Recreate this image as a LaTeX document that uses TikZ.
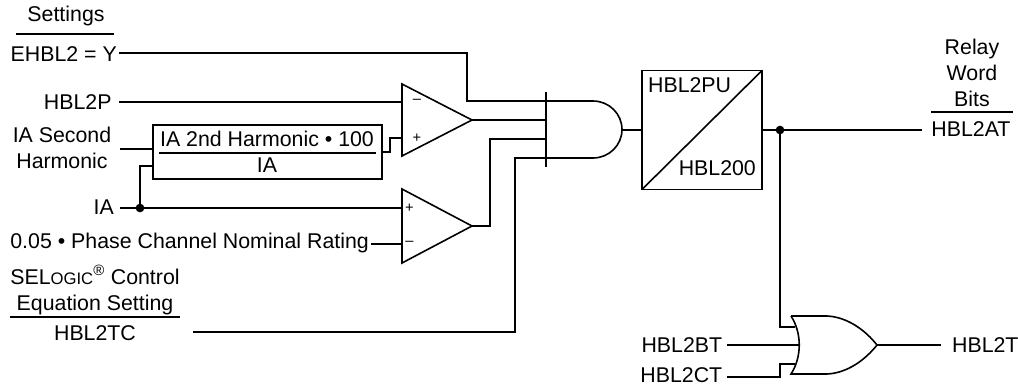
\documentclass[tikz,border=0pt]{standalone}
\usepackage{fontspec}
\setmainfont{Liberation Sans}
\usetikzlibrary{positioning}

\begin{document}
\begin{tikzpicture}[x=0.75pt,y=-0.75pt,line width=1.2pt,
                dot/.style={circle,fill,inner sep=0pt,minimum size=6.5pt},
                label node/.style={inner sep=1pt,font=\fontsize{16}{16}\selectfont},
                sign node/.style={inner sep=0pt,font=\fontsize{11}{12}\selectfont},
                box node/.style={draw,inner sep=0pt,outer sep=0pt}]
  \useasboundingbox (0,0) rectangle (1018,386);

  % inputs
  \node[label node] (settings) at (66,16) {Settings};
  \node[label node,anchor=east] (ehbl) at (119,54) {EHBL2 = Y};
  \node[label node,anchor=east,inner xsep=5pt] (hblp) at (119,102) {HBL2P};
  \node[label node,align=center] (second) at (62,148) {IA Second\\[3.5pt]Harmonic};
  \node[label node,anchor=east,inner xsep=4pt] (ia) at (120,207) {IA};
  \node[label node,anchor=east] (rating) at (371,243) {0.05 • Phase Channel Nominal Rating};
  \node[label node,align=center] (selogic) at (95,290) {SEL{\fontsize{12.5}{12}\selectfont OGIC}\textsuperscript{®} Control\\[3.5pt]Equation Setting};
  \node[label node] (hbltc) at (95,333) {HBL2TC};

  % outputs and the OR inputs
  \node[label node,align=center] (relay) at (972,73) {Relay\\[3.5pt]Word\\[3.5pt]Bits};
  \node[label node] (hblat) at (971,129) {HBL2AT};
  \node[label node,anchor=east,inner xsep=3pt] (hblbt) at (727,345) {HBL2BT};
  \node[label node,anchor=east,inner xsep=3pt] (hblct) at (727,375) {HBL2CT};
  \node[label node,anchor=west] (hblt) at (950,345) {HBL2T};

  % boxes
  \node[box node,minimum width=171.75pt,minimum height=40.5pt] (ratio) at (267.5,152) {};
  \node[label node] (ratiotop) at (267,139) {IA 2nd Harmonic • 100};
  \node[label node] (ratiobot) at (267,165) {IA};
  \node[box node,minimum width=90pt,minimum height=89.25pt] (timer) at (702,130) {};
  \node[label node,anchor=west] (timerpu) at (646,85) {HBL2PU};
  \node[label node,anchor=east] (timerdo) at (758,168) {HBL200};

  % comparators
  \coordinate (cmpa) at (472,120);
  \coordinate (cmpb) at (472,226);
  \draw (402,84) -- (cmpa) -- (402,156) -- cycle;
  \draw (402,189) -- (cmpb) -- (402,263) -- cycle;
  \node[sign node] (cmpaminus) at (417,101) {--};
  \node[sign node] (cmpaplus) at (417,138) {+};
  \node[sign node] (cmpbplus) at (409.5,208) {+};
  \node[sign node] (cmpbminus) at (409.5,243) {--};

  % AND gate
  \coordinate (andout) at (622,130);
  \draw (546,92) -- (546,167);
  \draw (546,101) -- (593,101) arc (-90:90:29 and 28.5) -- (546,158);

  % OR gate
  \coordinate (orout) at (877,345);
  \draw (791,316) -- (827,316) .. controls (848,317) and (866,331) .. (orout)
        .. controls (866,359) and (848,373) .. (827,374) -- (791,374)
        .. controls (802,357) and (802,333) .. (791,316);

  % pins
  \coordinate (andina) at (546,101);
  \coordinate (andinb) at (546,120);
  \coordinate (andinc) at (546,139);
  \coordinate (andind) at (546,158);
  \coordinate (cmpaina) at (402,102);
  \coordinate (cmpainb) at (402,138);
  \coordinate (cmpbina) at (402,208);
  \coordinate (cmpbinb) at (402,244);
  \coordinate (orina) at (795,327);
  \coordinate (orinb) at (799,345);
  \coordinate (orinc) at (795,364);
  \coordinate (branch) at (140,208);
  \coordinate (tap) at (780,130);

  % rules
  \draw (16,34) -- (114,34);
  \draw (159,153) -- (376,153);
  \draw (10,317) -- (180,317);
  \draw (931,112) -- (1013,112);
  \draw (timer.south west) -- (timer.north east);

  % connectors
  \node[dot] (iadot) at (branch) {};
  \node[dot] (tapdot) at (tap) {};
  \draw (ehbl.east |- 0,53) -- (467,53) -- (467,101) -- (andina);
  \draw (hblp.east) -- (cmpaina);
  \draw (120,149) -- (153,149);
  \draw (branch) -- (140,166) -- (153,166);
  \draw (ratio.east |- 0,152) -- (390,152) -- (390,138) -- (cmpainb);
  \draw (ia.east |- branch) -- (cmpbina);
  \draw (rating.east |- cmpbinb) -- (cmpbinb);
  \draw (cmpa) -- (andinb);
  \draw (cmpb) -- (490,226) -- (490,139) -- (andinc);
  \draw (193,332) -- (515,332) -- (515,158) -- (andind);
  \draw (andout) -- (timer.west);
  \draw (timer.east) -- (922,130);
  \draw (tap) -- (780,327) -- (orina);
  \draw (hblbt.east) -- (orinb);
  \draw (hblct.east |- 0,377) -- (780,377) -- (780,364) -- (orinc);
  \draw (orout) -- (941,345);
\end{tikzpicture}
\end{document}
